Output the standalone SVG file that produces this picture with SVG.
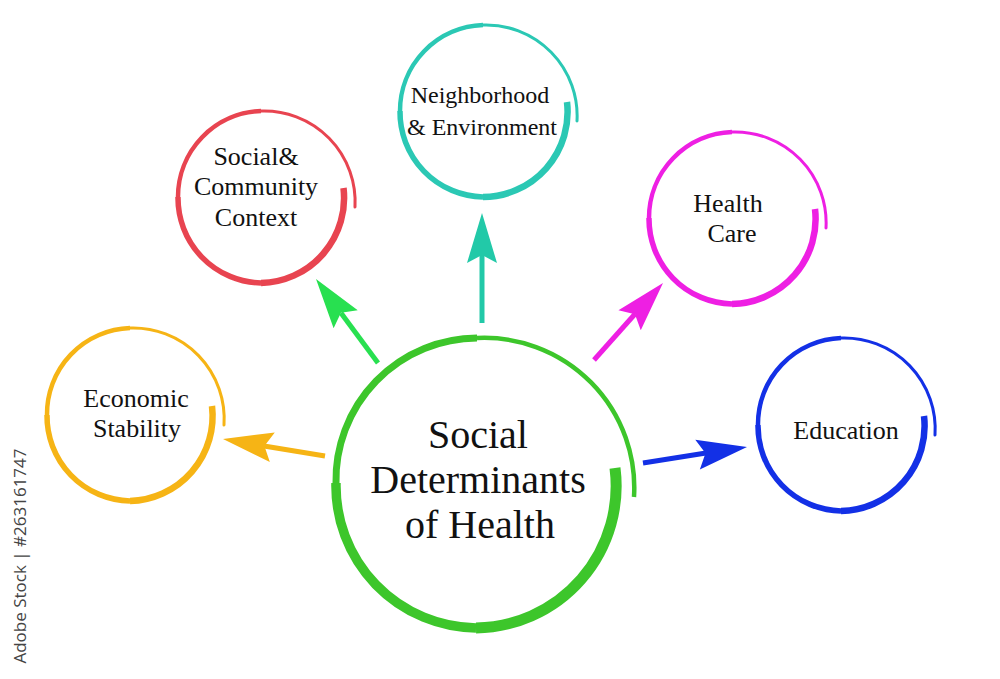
<svg xmlns="http://www.w3.org/2000/svg" xmlns:xlink="http://www.w3.org/1999/xlink" width="1000" height="679" viewBox="0 0 1000 679">
  <style>
    .ring { fill: none; stroke-linecap: butt; }
    .s1 { stroke-width: 6.5; }
    .s2 { stroke-width: 5.5; }
    .s3 { stroke-width: 4.5; }
    .s4 { stroke-width: 3; stroke-linecap: round; }
    .label { font-family: "Liberation Serif", "Times New Roman", serif; font-size: 26px; fill: #111; text-anchor: middle; }
    .main { font-size: 40px; }
    .shaft { fill: none; stroke-width: 5; stroke-linecap: butt; }
  </style>
  <defs>
    <path id="head" d="M0,0 L-50,-15 L-42,0 L-50,15 Z"/>
  </defs>
  <rect width="1000" height="679" fill="#ffffff"/>

  <g id="connectors">
    <line class="shaft" x1="325" y1="456" x2="264" y2="446" stroke="#F6B415"/>
    <use href="#head" xlink:href="#head" fill="#F6B415" transform="translate(223,439) rotate(-170.5)"/>
    <line class="shaft" x1="378" y1="363" x2="341" y2="313" stroke="#28E050"/>
    <use href="#head" xlink:href="#head" fill="#28E050" transform="translate(316,279) rotate(-126.4)"/>
    <line class="shaft" x1="482" y1="323" x2="482" y2="254" stroke="#22C9A8"/>
    <use href="#head" xlink:href="#head" fill="#22C9A8" transform="translate(482,213) rotate(-90)"/>
    <line class="shaft" x1="594" y1="360" x2="635" y2="314" stroke="#EE1FE3"/>
    <use href="#head" xlink:href="#head" fill="#EE1FE3" transform="translate(663,283) rotate(-48.1)"/>
    <line class="shaft" x1="643" y1="463" x2="706" y2="453" stroke="#1330E6"/>
    <use href="#head" xlink:href="#head" fill="#1330E6" transform="translate(747,447) rotate(-8.7)"/>
  </g>

  <g id="node-center">
    <path class="ring" stroke="#3DC62B" stroke-width="11" d="M615,468 A142,142 0 0 1 476,628"/>
    <path class="ring" stroke="#3DC62B" stroke-width="9.5" d="M476,628 A142,142 0 0 1 336,483"/>
    <path class="ring" stroke="#3DC62B" stroke-width="7" d="M336,483 A142,142 0 0 1 477,338"/>
    <path class="ring" stroke="#3DC62B" stroke-width="4.5" stroke-linecap="round" d="M477,338 A150,150 0 0 1 634,497"/>
    <text class="label main" x="478" y="448">Social</text>
    <text class="label main" x="478" y="493">Determinants</text>
    <text class="label main" x="480" y="538">of Health</text>
  </g>

  <g id="node-economic">
    <path class="ring s1" stroke="#F6B415" d="M212,406 A85,85 0 0 1 130,501"/>
    <path class="ring s2" stroke="#F6B415" d="M130,501 A85,85 0 0 1 47,415"/>
    <path class="ring s3" stroke="#F6B415" d="M47,415 A86,86 0 0 1 130,328"/>
    <path class="ring s4" stroke="#F6B415" d="M130,328 A91,91 0 0 1 224,425"/>
    <text class="label" x="136" y="407">Economic</text>
    <text class="label" x="137" y="437">Stability</text>
  </g>

  <g id="node-social">
    <path class="ring s1" stroke="#E84450" d="M343.5,188 A85,85 0 0 1 261,283"/>
    <path class="ring s2" stroke="#E84450" d="M261,283 A85,85 0 0 1 178,197"/>
    <path class="ring s3" stroke="#E84450" d="M178,197 A86,86 0 0 1 261,111"/>
    <path class="ring s4" stroke="#E84450" d="M261,111 A91,91 0 0 1 355,207"/>
    <text class="label" x="256" y="165">Social&amp;</text>
    <text class="label" x="256" y="195">Community</text>
    <text class="label" x="256" y="226">Context</text>
  </g>

  <g id="node-neighborhood">
    <path class="ring s1" stroke="#2BC8B4" d="M567,102 A85,85 0 0 1 483,197"/>
    <path class="ring s2" stroke="#2BC8B4" d="M483,197 A85,85 0 0 1 400,111"/>
    <path class="ring s3" stroke="#2BC8B4" d="M400,111 A86,86 0 0 1 483,25"/>
    <path class="ring s4" stroke="#2BC8B4" d="M483,25 A91,91 0 0 1 577,121"/>
    <text class="label" x="480" y="103" style="font-size:24px">Neighborhood</text>
    <text class="label" x="482" y="135" style="font-size:24px">&amp; Environment</text>
  </g>

  <g id="node-healthcare">
    <path class="ring s1" stroke="#EE1FE3" d="M815,209 A85,85 0 0 1 732,304"/>
    <path class="ring s2" stroke="#EE1FE3" d="M732,304 A85,85 0 0 1 649,218"/>
    <path class="ring s3" stroke="#EE1FE3" d="M649,218 A86,86 0 0 1 732,132"/>
    <path class="ring s4" stroke="#EE1FE3" d="M732,132 A91,91 0 0 1 826,228"/>
    <text class="label" x="728" y="212">Health</text>
    <text class="label" x="732" y="242">Care</text>
  </g>

  <g id="node-education">
    <path class="ring s1" stroke="#1330E6" d="M924,416 A85,85 0 0 1 841,511"/>
    <path class="ring s2" stroke="#1330E6" d="M841,511 A85,85 0 0 1 758,425"/>
    <path class="ring s3" stroke="#1330E6" d="M758,425 A86,86 0 0 1 841,338"/>
    <path class="ring s4" stroke="#1330E6" d="M841,338 A91,91 0 0 1 935,435"/>
    <text class="label" x="846" y="439">Education</text>
  </g>

  <text x="0" y="0" transform="translate(26,556) rotate(-90)" font-family="'Open Sans', 'DejaVu Sans', sans-serif" font-size="17" fill="#444444" text-anchor="middle">Adobe Stock | #263161747</text>
</svg>
